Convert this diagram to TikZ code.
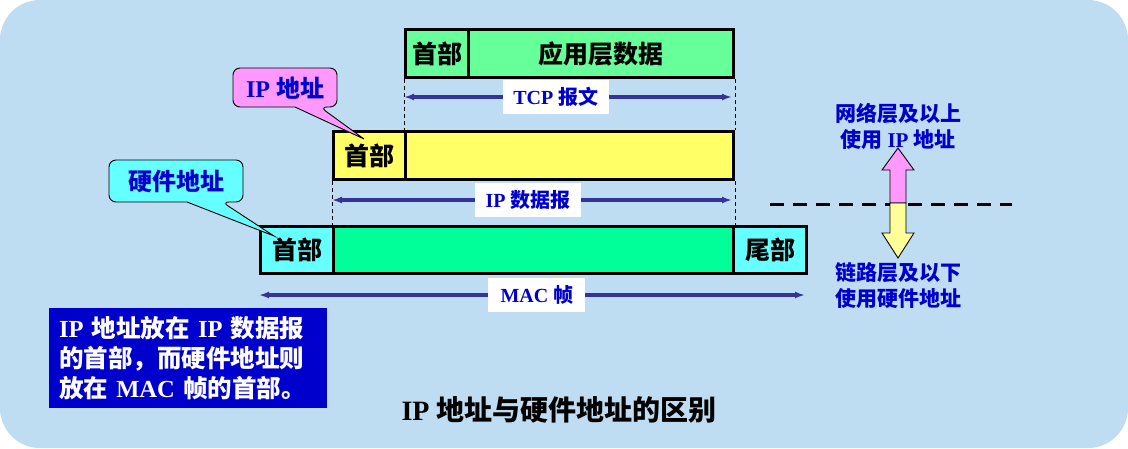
\documentclass[tikz,border=0pt]{standalone}
\usepackage{fontspec}
\setmainfont{Liberation Serif}
\newfontfamily\cjk{Noto Sans CJK SC}
\usetikzlibrary{arrows.meta}
\definecolor{bgblue}{HTML}{BFDDF2}
\definecolor{tcpgreen}{HTML}{66FF99}
\definecolor{ipyellow}{HTML}{FFFF66}
\definecolor{macgreen}{HTML}{00FF99}
\definecolor{maccyan}{HTML}{66FFFF}
\definecolor{pinkc}{HTML}{FF99FF}
\definecolor{lyellow}{HTML}{FFFF99}
\definecolor{boxblue}{HTML}{0000CC}
\definecolor{txtblue}{HTML}{0000CC}
\definecolor{arrowblue}{HTML}{333399}
\newcommand\zh[1]{{\cjk #1}}
\begin{document}
\begin{tikzpicture}[x=1pt,y=-1pt,
  box/.style={draw=black, line width=3pt, inner sep=0pt, anchor=north west,
    font=\cjk\bfseries\fontsize{25}{25}\selectfont},
  lbl/.style={fill=white, text=txtblue, inner sep=0pt, minimum width=106pt, minimum height=34pt,
    font=\bfseries\fontsize{20}{20}\selectfont},
  dim/.style={draw=arrowblue, line width=3.5pt, {Latex[length=10pt,width=7pt]}-{Latex[length=10pt,width=7pt]}},
  guide/.style={draw=black, line width=0.9pt, dash pattern=on 4pt off 3pt},
  callout/.style={draw=black, line width=0.9pt},
  calltext/.style={text=txtblue, font=\bfseries\fontsize{24}{24}\selectfont, inner sep=0pt},
  sidetext/.style={text=txtblue, align=center, font=\bfseries\fontsize{21}{26}\selectfont, inner sep=0pt}]
\useasboundingbox (0,0) rectangle (1128,448);
\fill[white] (0,0) rectangle (1128,448);
\fill[bgblue, rounded corners=40pt] (0,0) rectangle (1128,448);

% TCP segment
\node[box, fill=tcpgreen, minimum width=63pt, minimum height=48pt] (tcph) at (404,28) {首部};
\node[box, fill=tcpgreen, minimum width=265pt, minimum height=48pt] (tcpd) at (467,28) {应用层数据};
% IP datagram
\node[box, fill=ipyellow, minimum width=72pt, minimum height=48pt] (iph) at (332,130) {首部};
\node[box, fill=ipyellow, minimum width=328pt, minimum height=48pt] (ipd) at (404,130) {};
% MAC frame
\node[box, fill=maccyan, minimum width=73pt, minimum height=47pt] (mach) at (259,225) {首部};
\node[box, fill=macgreen, minimum width=400pt, minimum height=47pt] (macd) at (332,225) {};
\node[box, fill=maccyan, minimum width=73pt, minimum height=47pt] (mact) at (732,225) {尾部};

% guides
\draw[guide] (tcph.south west) -- (ipd.north west);
\draw[guide] (tcpd.south east) -- (ipd.north east);
\draw[guide] (iph.south west) -- (macd.north west);
\draw[guide] (ipd.south east) -- (macd.north east);

% dimension arrows
\coordinate (tcpL) at (404,97); \coordinate (tcpR) at (732,97);
\coordinate (ipL) at (332,200); \coordinate (ipR) at (732,200);
\coordinate (macL) at (259,295); \coordinate (macR) at (805,295);
\draw[dim] (tcpL) -- node[lbl, pos=0.463] (tcplbl) {TCP \zh{报文}} (tcpR);
\draw[dim] (ipL) -- node[lbl, pos=0.49] (iplbl) {IP \zh{数据报}} (ipR);
\draw[dim] (macL) -- node[lbl, minimum width=97pt, pos=0.509] (maclbl) {MAC \zh{帧}} (macR);

% callout IP address
\coordinate (iptip) at (364,139);
\draw[callout, fill=pinkc, rounded corners=7pt] (233,68) -- (337,68) -- (337,107) -- (320,107) [sharp corners] -- (iptip) -- (295,107) [rounded corners=7pt] -- (233,107) -- cycle;
\node[calltext] (ipcall) at (285,88) {IP \zh{地址}};

% callout hardware address
\coordinate (hwtip) at (274,236);
\draw[callout, fill=maccyan, rounded corners=7pt] (109,160) -- (243,160) -- (243,202) -- (222,202) [sharp corners] -- (hwtip) -- (187,202) [rounded corners=7pt] -- (109,202) -- cycle;
\node[calltext] (hwcall) at (176,181) {\zh{硬件地址}};

% note box
\node[fill=boxblue, text=white, anchor=north west, minimum width=278pt, minimum height=100pt,
  text width=258pt, inner xsep=10pt, inner ysep=0pt, align=left,
  font=\bfseries\fontsize{24.5}{30}\selectfont] (note) at (49,308)
  {IP \zh{地址放在} IP \zh{数据报}\\\zh{的首部，而硬件地址则}\\\zh{放在} MAC \zh{帧的首部。}};

% title
\node[font=\bfseries\fontsize{28}{28}\selectfont, inner sep=0pt] (title) at (559,410) {IP \zh{地址与硬件地址的区别}};

% right side
\node[sidetext] (upper) at (898,126) {\zh{网络层及以上}\\\zh{使用} IP \zh{地址}};
\node[sidetext] (lower) at (898,286) {\zh{链路层及以下}\\\zh{使用硬件地址}};
\draw[black, line width=3pt, dash pattern=on 14pt off 9pt] (770,204) -- (1012,204);
\draw[callout, fill=pinkc] (890,203) -- (890,170) -- (882,170) -- (898,148) -- (914,170) -- (906,170) -- (906,203) -- cycle;
\draw[callout, fill=lyellow] (890,203) -- (890,233) -- (882,233) -- (898,258) -- (914,233) -- (906,233) -- (906,203) -- cycle;
\end{tikzpicture}
\end{document}
